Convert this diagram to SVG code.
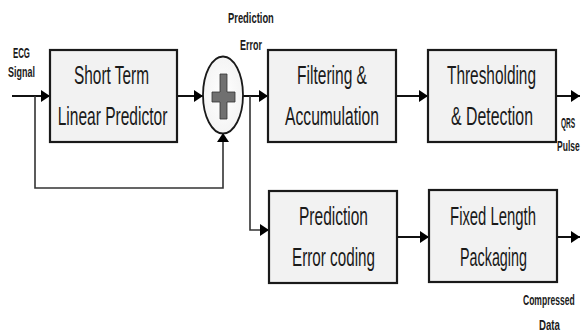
<svg xmlns="http://www.w3.org/2000/svg" width="581" height="332" viewBox="0 0 581 332">
<style>
.box{fill:#f2f2f2;stroke:#1a1a1a;stroke-width:2.2}
.bt{font-family:"Liberation Sans",Arial,sans-serif;font-size:26px;fill:#1a1a1a;text-anchor:middle}
.lb{font-family:"Liberation Sans",Arial,sans-serif;font-size:14px;font-weight:bold;fill:#1a1a1a}
.ln{fill:none;stroke:#111;stroke-width:2}
.ln2{fill:none;stroke:#333;stroke-width:1.6}
</style>
<defs>
<marker id="ah" viewBox="0 0 10 10" refX="10" refY="5" markerWidth="9" markerHeight="12" orient="auto" markerUnits="userSpaceOnUse" preserveAspectRatio="none">
<path d="M0,0 L10,5 L0,10 z" fill="#000"/>
</marker>
<radialGradient id="cg" cx="0.5" cy="0.5" r="0.6">
<stop offset="0" stop-color="#ffffff"/>
<stop offset="1" stop-color="#f2f2f2"/>
</radialGradient>
</defs>
<g id="connectors">
<path class="ln" d="M12,96 H50" marker-end="url(#ah)"/>
<path class="ln" d="M177,96 H203" marker-end="url(#ah)"/>
<path class="ln" d="M243,96 H268" marker-end="url(#ah)"/>
<path class="ln2" d="M35,96 V188 H223 V133" marker-end="url(#ah)"/>
<path class="ln2" d="M250,96 V230 H269" marker-end="url(#ah)"/>
<path class="ln" d="M396,96 H428" marker-end="url(#ah)"/>
<path class="ln" d="M556,96 H580" marker-end="url(#ah)"/>
<path class="ln" d="M397,237 H429" marker-end="url(#ah)"/>
<path class="ln" d="M557,237 H580" marker-end="url(#ah)"/>
</g>
<g id="labels">
<text class="lb" transform="translate(13,58) scale(0.56,1)">ECG</text>
<text class="lb" transform="translate(8,77) scale(0.64,1)">Signal</text>
<text class="lb" transform="translate(228,23) scale(0.67,1)">Prediction</text>
<text class="lb" transform="translate(240,50) scale(0.64,1)">Error</text>
<text class="lb" transform="translate(561,128) scale(0.47,1)">QRS</text>
<text class="lb" transform="translate(557,151) scale(0.61,1)">Pulse</text>
<text class="lb" transform="translate(523,305) scale(0.61,1)">Compressed</text>
<text class="lb" transform="translate(539,330) scale(0.69,1)">Data</text>
</g>
<g id="predictor">
<rect class="box" x="50" y="50" width="127" height="92"/>
<text class="bt" transform="translate(111.5,84) scale(0.592,1)">Short Term</text>
<text class="bt" transform="translate(112.5,125) scale(0.598,1)">Linear Predictor</text>
</g>
<g id="adder">
<ellipse cx="223" cy="95" rx="20" ry="38.5" fill="url(#cg)" stroke="#1a1a1a" stroke-width="1.8"/>
<path d="M220,74 H227 V92 H235 V102 H227 V119 H220 V102 H212 V92 H220 Z" fill="#707070" stroke="#333" stroke-width="0.8"/>
</g>
<g id="filtering">
<rect class="box" x="268" y="50" width="128" height="92"/>
<text class="bt" transform="translate(332,84) scale(0.598,1)">Filtering &amp;</text>
<text class="bt" transform="translate(332,125) scale(0.602,1)">Accumulation</text>
</g>
<g id="thresholding">
<rect class="box" x="428" y="50" width="128" height="92"/>
<text class="bt" transform="translate(491.5,84) scale(0.592,1)">Thresholding</text>
<text class="bt" transform="translate(492,125) scale(0.61,1)">&amp; Detection</text>
</g>
<g id="coding">
<rect class="box" x="269" y="191" width="128" height="92"/>
<text class="bt" transform="translate(333.5,225) scale(0.597,1)">Prediction</text>
<text class="bt" transform="translate(333.5,266) scale(0.586,1)">Error coding</text>
</g>
<g id="packaging">
<rect class="box" x="429" y="190" width="128" height="92"/>
<text class="bt" transform="translate(493,225) scale(0.572,1)">Fixed Length</text>
<text class="bt" transform="translate(493.5,266) scale(0.552,1)">Packaging</text>
</g>
</svg>
